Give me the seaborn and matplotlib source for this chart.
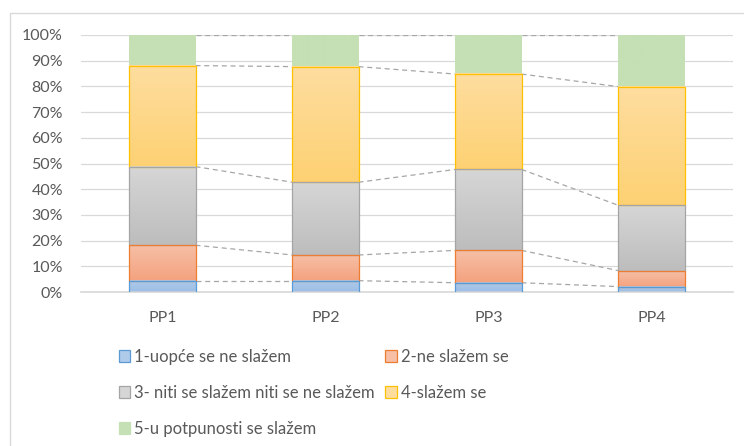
import numpy as np
import pandas as pd
import matplotlib
matplotlib.use("Agg")
import matplotlib.pyplot as plt
import seaborn as sns
from matplotlib.colors import to_rgb
from matplotlib.patches import Rectangle

categories = ["PP1", "PP2", "PP3", "PP4"]
series_names = ["1-uopće se ne slažem", "2-ne slažem se",
                "3- niti se slažem niti se ne slažem", "4-slažem se",
                "5-u potpunosti se slažem"]
s1 = [4.4, 4.4, 3.6, 2.1]
s2 = [13.8, 10.0, 12.6, 6.2]
s3 = [30.6, 28.3, 31.5, 25.4]
s4 = [39.3, 45.0, 37.1, 46.2]
s5 = [11.9, 12.3, 15.2, 20.1]
series_values = [s1, s2, s3, s4, s5]
tick_labels = ["0%", "10%", "20%", "30%", "40%", "50%", "60%", "70%", "80%", "90%", "100%"]

top_colors = ["#b0cbea", "#f6bfa6", "#d6d6d6", "#fedd9f", "#c5e0b4"]
bot_colors = ["#9bbde6", "#f4a27e", "#bdbdbd", "#fdd173", "#c5e0b4"]
edge_colors = ["#5b9bd5", "#ed7d31", "#a5a5a5", "#ffc000", "none"]

sns.set_theme(style="white")
plt.rcParams['font.family'] = ['Lato', 'DejaVu Sans']

fig = plt.figure(figsize=(7.44, 4.46), dpi=100)
ax = fig.add_axes([81/744, 1-292/446, 652/744, 257/446])

# normalize to 100%
vals = np.array(series_values, dtype=float)
vals = vals / vals.sum(axis=0) * 100
cum = np.cumsum(vals, axis=0)

for i in range(len(series_names) - 1, -1, -1):
    df = pd.DataFrame({"cat": categories, "v": cum[i]})
    sns.barplot(data=df, x="cat", y="v", ax=ax, color=top_colors[i],
                width=0.405, saturation=1, zorder=2)

ax.set_xlim(-0.5, 3.5)
ax.set_ylim(0, 100)

# apply gradients to patches
patches = list(ax.patches)
n = len(categories)
grad = np.linspace(0, 1, 64).reshape(-1, 1)
for k, p in enumerate(patches):
    si = len(series_names) - 1 - k // n
    ci = k % n
    x0 = p.get_x(); w = p.get_width()
    y1 = cum[si][ci]
    y0 = cum[si - 1][ci] if si > 0 else 0
    p.set_visible(False)
    c0 = np.array(to_rgb(bot_colors[si])); c1 = np.array(to_rgb(top_colors[si]))
    img = (c0 + (c1 - c0) * grad).reshape(64, 1, 3)
    ax.imshow(img, extent=[x0, x0 + w, y0, y1], origin="lower",
              aspect="auto", zorder=2, interpolation="bilinear")
    if edge_colors[si] != "none":
        ax.add_patch(Rectangle((x0, y0), w, y1 - y0, fill=False,
                               edgecolor=edge_colors[si], linewidth=0.9, zorder=3))
ax.set_xlim(-0.5, 3.5)
ax.set_ylim(0, 100)

# series lines
hw = 0.405 / 2
for i in range(len(series_names)):
    for c in range(n - 1):
        ax.plot([c + hw, c + 1 - hw], [cum[i][c], cum[i][c + 1]],
                color="#a6a6a6", lw=0.9, ls=(0, (4, 3)), zorder=1)

ax.set_yticks(np.arange(0, 101, 10))
ax.set_yticklabels(tick_labels)
ax.yaxis.grid(True, color="#d9d9d9", lw=0.9, zorder=0)
ax.set_axisbelow(True)
for s in ["top", "right", "left"]:
    ax.spines[s].set_visible(False)
ax.spines["bottom"].set_color("#d9d9d9")
ax.tick_params(axis="both", length=0, colors="#595959", labelsize=11.5)
ax.tick_params(axis="x", pad=14)
ax.tick_params(axis="y", pad=13)
ax.set_xlabel(""); ax.set_ylabel("")

# legend (row-wise order)
handles = [Rectangle((0, 0), 1, 1, facecolor=top_colors[i],
                     edgecolor=(edge_colors[i] if edge_colors[i] != "none" else top_colors[i]),
                     linewidth=0.9) for i in range(5)]
order = [0, 2, 4, 1, 3]
leg = fig.legend([handles[i] for i in order], [series_names[i] for i in order],
                 ncol=2, loc="upper left",
                 bbox_to_anchor=(112/744, 1-342/446), frameon=False,
                 fontsize=12, labelcolor="#595959", handlelength=0.7,
                 handleheight=0.7, handletextpad=0.25, columnspacing=0.6,
                 labelspacing=1.2, borderaxespad=0)

# chart border
fig.add_artist(Rectangle((10/744, -0.1), 1.1, 1 - 13/446 + 0.1, transform=fig.transFigure,
                         fill=False, edgecolor="#d9d9d9", lw=1))

fig.savefig("out.png", dpi=100)
